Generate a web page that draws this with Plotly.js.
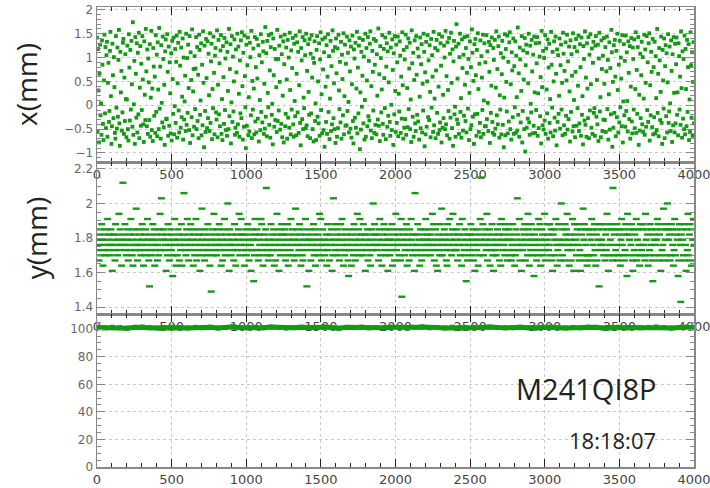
<!DOCTYPE html>
<html>
<head>
<meta charset="utf-8">
<script src="https://cdn.plot.ly/plotly-3.0.1.min.js"></script>
<style>html,body{margin:0;padding:0;background:#fff;}#chart{width:710px;height:488px;}</style>
</head>
<body>
<div id="chart"></div>
<script>
// sample index span (shared horizontal axis of all three panels)
const sampleStart = 0;
const sampleEnd = 4000;

// panel 1: horizontal beam position x (mm)
const xPos = [
1.42,-.55,1.18,.31,-.78,.66,1.27,-.21,.04,-.62,1.36,.85,-.39,-.73,.52,1.48,-.17,1.22,-.48,1.05,
1.33,-.66,.47,.89,-.35,-.12,1.14,1.54,.19,-.81,-.44,1.29,.63,-.27,1.01,.38,-.58,-.7,1.45,-.05,
-.49,1.21,-.24,.95,1.58,-.38,-.85,1.12,.27,.72,-.53,-.15,1.31,1.39,-.6,.58,-.33,1.07,.13,-.67,
.12,1.25,-.5,-.74,1.49,.79,-.32,1.16,-.09,1.35,.44,-.45,1.74,-.62,.02,.93,-.81,1.43,.66,-.26,
1.3,-.57,1.1,-.19,1.52,-.69,.37,1.24,-.43,.87,-.1,1.45,.54,-.4,-.77,1.34,.22,-.31,1.6,.71,
-.44,1.17,-.6,.98,.48,-.31,1.28,-.66,.16,1.56,-.52,.35,-.75,1.2,.81,-.22,.6,-.58,1.47,-.14,
1.06,-.65,1.32,.33,-.5,1.62,-.07,.81,-.7,1.26,.05,-.36,1.44,.97,-.46,.43,-.83,1.13,1.38,-.29,
-.28,1.49,.7,-.64,1.23,-.43,.9,.25,-.59,1.09,-.74,1.35,.55,-.18,1.42,-.61,-.02,1.18,-.37,.91,
1.46,-.68,.46,1.31,-.11,-.57,1.54,.83,-.47,1.21,-.25,.18,1.4,-.72,1.0,-.3,.08,.62,-.54,1.5,
-.41,.99,-.16,1.27,.36,-.52,1.45,-.79,1.11,.53,-.25,1.59,-.63,.29,.76,-.45,1.03,-.08,.77,1.43,
-.5,1.22,-.33,.64,-.69,1.48,1.16,-.2,.1,1.3,-.63,.85,-.42,1.55,.47,-.88,1.25,-.12,-.56,1.39,
.57,-.48,1.34,-.27,1.08,.21,-.54,1.51,-.37,.92,1.29,-.71,.34,-.06,1.44,.68,-.61,1.04,1.2,-.15,
-.3,1.57,-.67,.43,1.37,-.19,.88,-.44,1.15,1.47,-.6,.13,-.73,1.24,.59,-.39,1.41,-.1,.98,-.52,
1.32,-.64,1.12,.3,-.5,1.6,-.23,.76,1.28,-.8,.06,1.45,-.35,1.02,-.13,.5,1.38,-.62,-.47,1.17,
.69,-.58,1.5,-.4,1.23,.24,-.66,.94,-.17,1.36,-.27,1.53,.4,-.72,1.1,-.45,1.46,.61,-.04,-.9,
1.27,-.43,.84,1.42,-.63,.17,-.55,1.31,1.01,-.21,1.56,-.69,.51,-.09,1.19,.35,-.61,1.43,-.34,.8,
-.57,1.39,.56,-.28,1.26,-.76,1.05,.11,-.52,1.49,-.14,.9,-.36,1.33,1.13,-.6,.45,-.49,1.64,-.24,
1.09,-.65,1.35,.26,-.04,1.47,-.41,.73,-.68,1.22,1.5,-.2,.03,-.82,1.4,.63,-.45,1.18,-.31,.97,
.38,-.56,1.58,-.33,.97,-.11,1.25,.49,-.51,1.44,-.39,1.07,-.67,.2,1.34,-.78,.86,1.48,-.44,-.18,
1.21,.54,-.7,1.37,-.26,1.0,-.47,1.52,.32,-.61,1.15,-.09,.78,1.41,-.4,-.66,1.29,.09,-.23,1.46,
-.63,.66,1.32,-.15,1.12,-.58,.42,1.55,-.37,-.84,1.2,.94,-.29,1.43,-.5,.16,-.06,1.36,1.05,-.48,
1.5,-.42,.72,-.65,1.28,.28,-.2,1.39,-.69,1.08,-.17,1.47,.58,-.5,.99,-.76,.89,1.34,-.33,.04,
-.73,1.16,1.45,-.24,.5,-.38,1.3,-.64,.96,1.53,-.1,.23,-.59,1.38,.75,-.52,1.11,-.87,1.42,.39,
-.35,1.26,-.6,.6,1.49,-.14,1.03,-.71,.14,1.35,-.54,.82,-.4,1.57,1.14,-.27,.46,-.5,1.22,-.79,
1.4,.67,-.66,1.19,-.48,1.48,.31,-.08,.91,-.36,1.33,-.7,1.06,.55,-.21,1.51,-.61,.19,1.27,-.43,
.87,-.42,1.44,-.12,1.1,.07,-.57,1.36,.71,-.49,1.23,-.68,.44,1.46,-.33,-.8,1.17,.98,-.26,1.31,
-.47,.35,1.54,-.59,.79,-.17,1.25,1.41,-.92,.27,-.51,1.12,-.03,.62,1.37,-.38,1.02,-.72,.11,1.5,
-.66,1.2,.52,-.44,1.43,-.23,.93,-.32,1.29,1.55,-.53,.4,-.69,1.14,.7,-.11,1.39,-.58,.85,-.41,
1.35,-.61,1.07,.2,-.3,1.61,-.43,.65,-.75,1.24,.99,-.15,.33,1.47,-.39,-.62,1.18,.57,-.06,1.42,
-.71,.81,1.3,-.45,1.13,-.22,.48,1.52,-.35,-.64,1.21,.01,-.52,1.38,.74,-.83,1.09,-.19,1.45,.3,
-.56,1.27,-.37,.9,1.44,-.65,.24,-.13,1.34,1.04,-.58,.6,-.28,1.53,.42,-.7,1.16,-.47,.96,-.29,
1.48,-.62,1.22,.36,-.46,1.4,-.08,.77,1.31,-.5,.12,-.77,1.57,.88,-.24,1.1,-.66,.53,1.36,-.38,
-.54,1.45,.64,-.2,1.19,-.34,1.02,-.72,.18,1.42,-.48,.86,1.28,-.57,.45,-.11,1.5,1.12,-.86,.69,
-.61,1.33,-.45,.5,1.47,-.25,.94,-.31,1.26,.28,-.67,1.39,-.05,1.05,.6,-.56,1.54,-.42,.14,1.2,
-.69,.73,1.37,-.16,1.15,-.6,.39,1.49,-.52,-.36,1.3,.83,-.78,1.44,-.47,.22,-.27,1.25,1.0,-.5,
1.56,-.4,.61,-.63,1.32,.32,-.12,1.41,-.7,1.08,-.26,1.52,.47,-.48,1.17,-.85,.92,1.35,-.19,-.03,
-.66,1.23,1.7,-.3,.56,-.39,1.29,-.6,1.01,1.5,-.14,.15,-.68,1.38,.78,-.53,1.06,-.22,1.43,.43,
-.33,1.2,-.57,.68,1.45,-.07,.97,-.73,.26,1.34,-.5,.8,-.42,1.59,1.1,-.24,.51,-.81,1.28,-.19,
1.39,.63,-.64,1.16,-.18,1.51,.34,-.56,.87,-.37,1.36,-.67,1.03,.58,-.1,1.48,-.6,.1,1.3,-.44,
.9,-.44,1.47,-.29,1.13,.05,-.54,1.33,.7,-.79,1.26,-.16,.41,1.42,-.35,-.58,1.2,.95,-.62,1.37,
-.49,.37,1.55,-.21,.76,-.4,1.24,1.44,-.68,.21,-.09,1.09,-.61,.65,1.35,-.41,1.0,-.88,.16,1.49,
-.63,1.18,.49,-.13,1.46,-.59,.91,-.34,1.32,1.53,-.5,.44,-.72,1.11,.73,-.25,1.4,-.6,.82,-.04,
1.34,-.58,1.04,.17,-.53,1.63,-.2,.67,-.66,1.21,.96,-.36,.3,1.45,-.78,-.12,1.15,.54,-.5,1.41,
-.97,.84,1.27,-.47,1.1,-.28,.46,1.5,-.36,-.62,1.25,.03,-.15,1.37,.71,-.59,1.06,-.43,1.44,.27,
-.58,1.3,-.1,.88,1.43,-.64,.25,-.48,1.31,1.02,-.23,.59,-.8,1.56,.38,-.42,1.14,-.51,.99,-.32,
1.47,-.6,1.19,.33,-.17,1.38,-.7,.79,1.29,-.37,.13,-.57,1.54,.85,-.05,1.12,-.65,.5,1.34,-.26,
-.53,1.44,.66,-.84,1.17,-.35,1.05,-.18,.2,1.4,-.49,.84,1.27,-.09,.47,-.63,1.52,1.08,-.42,.72,
-.6,1.32,-.22,.52,1.48,-.51,.92,-.29,1.23,.29,-.76,1.36,-.14,1.07,.62,-.55,1.51,-.44,.11,1.22,
-.67,.7,1.39,-.43,1.13,-.06,.41,1.46,-.54,-.38,1.28,.8,-.64,1.42,-.2,.19,-.82,1.24,.97,-.32,
1.55,-.41,.58,-.66,1.3,.35,-.27,1.43,-.69,1.06,-.11,1.49,.44,-.47,1.19,-.6,.89,1.33,-.16,-.06,
-.64,1.25,1.45,-.24,.53,-.4,1.27,-.75,.98,1.52,-.13,.17,-.67,1.36,.76,-.54,1.04,-.3,1.41,.45,
-.31,1.22,-.56,.71,1.44,-.08,.95,-.72,.23,1.32,-.51,.78,-.19,1.58,1.11,-.87,.49,-.47,1.26,-.16,
1.37,.6,-.65,1.14,-.25,1.5,.32,-.57,.85,-.36,1.35,-.04,1.0,.56,-.44,1.47,-.78,.08,1.28,-.21,
.93,-.45,1.46,-.12,1.11,.09,-.55,1.34,.68,-.29,1.24,-.7,.39,1.41,-.34,-.59,1.21,.97,-.09,1.38,
-.48,.34,1.53,-.58,.74,-.18,1.22,1.43,-.83,.22,-.53,1.08,-.27,.63,1.33,-.4,1.01,-.56,.14,1.48,
-.62,1.17,.47,-.45,1.45,-.1,.9,-.35,1.3,1.51,-.74,.42,-.21,1.12,.7,-.46,1.39,-.61,.8,-.25,
1.33,-.59,1.03,.15,-.52,1.6,-.16,.66,-.65,1.2,.94,-.31,.28,1.44,-.37,-.81,1.16,.52,-.07,1.4,
-.69,.82,1.26,-.23,1.09,-.57,.48,1.49,-.37,-.13,1.23,.04,-.54,1.36,.72,-.77,1.07,-.42,1.43,.26,
-.57,1.29,-.38,.86,1.42,-.2,.27,-.63,1.3,1.03,-.09,.6,-.41,1.55,.36,-.68,1.13,-.28,.97,-.5,
1.46,-.61,1.18,.34,-.44,1.37,-.14,.8,1.28,-.73,.12,-.56,1.53,.84,-.26,1.11,-.64,.49,1.32,-.38
];

// panel 2: vertical beam position y (mm)
const yPos = [
1.79,1.73,1.82,1.67,1.76,1.85,1.70,1.88,1.79,1.64,1.73,1.82,1.76,1.70,1.85,1.79,1.91,1.73,1.76,1.82,
1.70,1.85,1.76,1.61,1.82,1.79,1.73,1.67,1.88,1.76,1.82,1.70,1.79,1.94,1.73,1.85,1.76,1.64,1.79,2.12,
1.82,1.76,1.88,1.73,1.70,1.79,1.85,1.67,1.76,1.82,1.73,1.91,1.79,1.70,1.64,1.85,1.82,1.76,1.73,1.97,
1.76,1.67,1.79,1.85,1.73,1.82,1.70,1.76,1.88,1.79,1.64,1.73,1.82,1.85,1.70,1.76,1.91,1.79,1.67,1.52,
1.73,1.82,1.70,1.79,1.88,1.76,1.85,1.64,1.73,1.79,1.82,1.67,1.76,1.70,1.85,1.94,1.73,2.03,1.82,1.79,
1.85,1.79,1.73,1.76,1.61,1.82,1.70,1.88,1.79,1.67,1.76,1.85,1.73,1.82,1.58,1.70,1.79,1.91,1.76,1.64,
1.79,1.70,1.85,1.82,1.67,1.76,1.73,1.88,1.64,1.79,1.82,2.06,1.76,1.73,1.70,1.85,1.91,1.79,1.67,1.82,
1.76,1.88,1.73,1.79,1.85,1.64,1.82,1.70,1.76,1.91,1.67,1.79,1.73,1.85,1.82,1.61,1.76,1.70,1.97,1.79,
1.82,1.73,1.67,1.85,1.76,1.79,1.70,1.88,1.73,1.82,1.64,1.76,1.49,1.79,1.85,1.70,1.94,1.73,1.82,1.76,
1.70,1.79,1.85,1.76,1.88,1.73,1.82,1.64,1.79,1.67,1.76,1.85,1.91,1.70,1.73,1.82,1.79,2.00,1.76,1.61,
1.85,1.76,1.70,1.82,1.73,1.79,1.67,1.88,1.76,1.64,1.82,1.73,1.79,1.85,1.94,1.70,1.76,1.91,1.82,1.73,
1.79,1.82,1.64,1.76,1.85,1.70,1.73,1.88,1.79,1.67,1.82,1.76,1.61,1.73,1.85,1.79,1.55,1.70,1.91,1.82,
1.73,1.85,1.79,1.67,1.82,1.76,1.70,1.91,1.88,1.73,1.64,1.79,1.82,1.76,1.85,2.09,1.70,1.73,1.67,1.79,
1.76,1.70,1.88,1.82,1.73,1.79,1.85,1.64,1.76,1.67,1.82,1.94,1.73,1.79,1.61,1.85,1.70,1.76,1.88,1.82,
1.82,1.79,1.73,1.85,1.67,1.76,1.70,1.88,1.64,1.82,1.79,1.73,1.91,1.76,1.85,1.70,1.79,1.67,1.82,1.97,
1.70,1.76,1.85,1.79,1.73,1.88,1.82,1.64,1.76,1.70,1.67,1.85,1.79,1.73,1.91,1.82,1.52,1.76,1.79,1.61,
1.79,1.85,1.67,1.73,1.82,1.76,1.88,1.70,1.79,1.64,1.85,1.73,1.76,1.82,1.70,1.94,1.79,1.91,1.67,1.76,
1.85,1.73,1.79,1.70,1.76,1.82,1.64,1.88,1.73,1.79,1.67,1.82,1.76,1.85,1.61,1.70,2.03,1.79,1.88,1.73,
1.76,1.82,1.70,1.85,1.79,1.67,1.73,1.88,1.82,1.91,1.76,1.64,1.79,1.70,1.85,1.73,1.82,1.76,1.67,1.58,
1.73,1.79,1.82,1.64,1.85,1.76,1.70,1.88,1.73,1.67,1.79,1.82,1.94,1.76,1.85,1.70,1.91,1.79,1.73,1.82,
1.70,1.88,1.76,1.82,1.61,1.79,1.73,1.85,1.67,1.76,1.82,1.70,1.64,1.79,1.85,1.73,2.00,1.76,1.88,1.82,
1.82,1.76,1.73,1.79,1.67,1.85,1.91,1.70,1.76,1.64,1.82,1.79,1.88,1.73,1.85,1.70,1.76,1.82,1.61,1.79,
1.79,1.70,1.85,1.73,1.88,1.64,1.76,1.82,1.67,1.79,1.94,1.73,1.85,1.76,1.82,1.70,1.79,1.67,1.91,1.46,
1.76,1.85,1.82,1.70,1.73,1.79,1.88,1.64,1.76,1.82,1.67,1.85,1.73,1.91,1.79,1.70,1.76,1.82,1.61,2.06,
1.73,1.82,1.76,1.88,1.70,1.79,1.64,1.85,1.73,1.67,1.82,1.79,1.76,1.85,1.70,1.91,1.73,1.79,1.82,1.76,
1.85,1.79,1.70,1.82,1.76,1.94,1.73,1.88,1.67,1.79,1.85,1.64,1.76,1.61,1.82,1.73,1.70,1.88,1.79,1.97,
1.70,1.76,1.82,1.85,1.79,1.73,1.67,1.64,1.88,1.76,1.82,1.91,1.73,1.79,1.70,1.85,1.94,1.76,1.82,1.73,
1.79,1.73,1.85,1.67,1.82,1.76,1.88,1.70,1.79,1.64,1.91,1.82,1.76,1.73,1.85,1.70,1.55,1.79,1.67,1.82,
1.76,1.82,1.73,1.88,1.79,1.70,1.85,1.67,1.76,1.61,1.82,1.79,1.73,1.85,1.64,1.76,1.70,1.91,2.15,1.79,
1.82,1.88,1.70,1.76,1.85,1.79,1.73,1.94,1.67,1.82,1.76,1.85,1.64,1.79,1.73,1.88,1.70,1.61,1.82,1.76,
1.73,1.70,1.79,1.85,1.76,1.82,1.67,1.88,1.64,1.91,1.79,1.73,1.82,1.76,1.70,1.85,1.88,1.79,1.67,1.73,
1.85,1.79,1.82,1.70,1.67,1.76,1.88,1.73,1.79,1.64,1.70,1.85,1.82,2.03,1.76,1.73,1.91,1.67,1.79,1.61,
1.76,1.73,1.85,1.82,1.88,1.67,1.79,1.76,1.70,1.94,1.85,1.64,1.82,1.73,1.88,1.79,1.70,1.76,1.58,1.82,
1.79,1.85,1.67,1.73,1.70,1.91,1.76,1.88,1.64,1.79,1.85,1.82,1.70,1.73,1.94,1.67,1.76,1.79,1.88,1.82,
1.73,1.76,1.88,1.70,1.85,1.67,1.61,1.82,1.79,1.85,1.70,1.91,1.76,1.64,1.73,1.88,1.79,1.67,1.76,2.00,
1.85,1.70,1.76,1.79,1.67,1.88,1.82,1.85,1.94,1.73,1.76,1.64,1.82,1.79,1.67,1.73,1.91,1.76,1.61,1.88,
1.82,1.79,1.70,1.85,1.88,1.76,1.67,1.73,1.61,1.85,1.82,1.70,1.97,1.79,1.88,1.67,1.76,1.85,1.64,1.70,
1.70,1.85,1.82,1.67,1.79,1.91,1.85,1.76,1.70,1.88,1.73,1.64,1.82,1.67,1.85,1.79,1.52,1.88,1.76,1.73,
1.79,1.76,1.85,1.70,1.88,1.67,1.82,1.73,1.94,1.85,1.61,1.70,1.76,1.79,1.88,1.85,1.67,2.09,1.70,1.82,
1.85,1.73,1.76,1.88,1.67,1.70,1.85,1.82,1.64,1.79,1.91,1.76,1.70,1.85,1.67,1.73,1.88,1.82,1.58,1.94,
1.82,1.70,1.79,1.85,1.76,1.88,1.67,1.61,1.85,1.73,1.82,1.70,1.91,1.67,1.79,1.85,1.76,1.64,1.88,1.70,
1.73,1.85,1.88,1.76,1.70,1.67,1.94,1.79,1.85,1.82,1.64,1.70,1.73,1.88,1.76,1.85,1.67,1.55,1.82,1.79,
1.70,1.76,1.85,1.79,1.91,1.88,1.67,1.82,1.70,1.61,1.85,1.73,1.76,1.97,1.67,1.88,1.79,1.85,1.70,2.00,
1.85,1.79,1.82,1.67,1.70,1.88,1.85,1.76,1.64,1.73,1.91,1.70,1.82,1.85,1.79,1.58,1.67,1.88,1.76,1.43,
1.82,1.85,1.79,1.70,1.88,1.67,1.76,1.61,1.85,1.73,1.94,1.70,1.82,1.88,1.67,1.64,1.85,1.79,1.91,1.76
];

// panel 3: intensity (near 101)
const intensity = [
101.2,100.9,101.4,101.1,100.7,101.3,101.6,101.0,100.8,101.2,101.5,101.1,100.9,101.3,101.0,101.4,100.8,101.2,101.7,101.1,
100.9,101.3,101.0,101.5,101.2,100.8,101.1,101.4,100.9,101.2,101.6,101.0,100.7,101.3,101.1,101.5,100.9,101.2,101.0,101.4,
101.1,100.8,101.3,101.6,101.0,101.2,100.9,101.4,101.1,100.8,101.3,101.0,101.5,101.2,100.9,101.1,101.4,101.0,100.8,101.3,
101.6,101.1,100.9,101.2,101.0,101.5,101.3,100.8,101.1,101.4,100.9,101.2,101.0,101.3,101.6,101.1,100.8,101.2,101.4,101.0
];

// text
const xTitle = 'x(mm)';
const yTitle = 'y(mm)';
const deviceName = 'M241QI8P';
const timeStamp = '18:18:07';

const green = '#129b12';

function step(arr) { return (sampleEnd - sampleStart) / (arr.length - 1); }

const traces = [
  {type: 'scatter', mode: 'markers', x0: sampleStart, dx: step(xPos), y: xPos,
   xaxis: 'x', yaxis: 'y', hoverinfo: 'skip',
   marker: {symbol: 'square', size: 3.8, color: green, line: {width: 0}}},
  {type: 'scatter', mode: 'markers', x0: sampleStart, dx: step(yPos), y: yPos,
   xaxis: 'x2', yaxis: 'y2', hoverinfo: 'skip',
   marker: {symbol: 'line-ew', size: 5, color: green, line: {color: green, width: 2.4}}},
  {type: 'scatter', mode: 'lines+markers', x0: sampleStart, dx: step(intensity), y: intensity,
   xaxis: 'x3', yaxis: 'y3', line: {color: green, width: 5}, marker: {color: green, size: 5, symbol: 'square'},
   hoverinfo: 'skip'}
];

function xAxis(anchor) {
  return {
    anchor: anchor, domain: [0, 1], range: [sampleStart, sampleEnd],
    tick0: 0, dtick: 500, ticks: 'inside', ticklen: 8, tickwidth: 1, tickcolor: '#222',
    showline: true, linecolor: '#888', linewidth: 1.5, mirror: 'allticks',
    showgrid: true, gridcolor: '#c8c8c8', griddash: 'dot', gridwidth: 1,
    zeroline: false, ticklabeloverflow: 'allow',
    tickfont: {family: 'DejaVu Sans', size: 13, color: '#444'},
    minor: {dtick: 100, ticks: 'inside', ticklen: 4, tickcolor: '#222', showgrid: false}
  };
}
function yAxis(anchor, domain, range, dtick, minorDtick, title) {
  const ax = {
    anchor: anchor, domain: domain, range: range, dtick: dtick,
    ticks: 'inside', ticklen: 8, tickwidth: 1, tickcolor: '#888',
    showline: true, linecolor: '#888', linewidth: 1.5, mirror: 'allticks',
    showgrid: true, gridcolor: '#c8c8c8', griddash: 'dot', gridwidth: 1,
    zeroline: false, tickfont: {family: 'DejaVu Sans', size: 12, color: '#666'},
    minor: {dtick: minorDtick, ticks: 'inside', ticklen: 4, tickcolor: '#888', showgrid: false}
  };
  if (title) {
    ax.title = {text: title, font: {family: 'Open Sans', size: 28, color: '#222'}, standoff: 18};
  }
  return ax;
}

const layout = {
  width: 710, height: 488,
  margin: {l: 97, r: 16, t: 7, b: 21, pad: 0},
  paper_bgcolor: '#fff', plot_bgcolor: '#fff',
  showlegend: false,
  xaxis: xAxis('y'),
  xaxis2: xAxis('y2'),
  xaxis3: xAxis('y3'),
  yaxis: yAxis('x', [0.663, 1], [-1.19, 2.06], 0.5, 0.1, xTitle),
  yaxis2: yAxis('x2', [0.3326, 0.663], [1.36, 2.24], 0.2, 0.05, yTitle),
  yaxis3: yAxis('x3', [0, 0.3326], [0, 111], 20, 5, null),
  annotations: [
    {text: deviceName, xref: 'paper', yref: 'y3', x: 0.82, y: 57, xanchor: 'center', yanchor: 'middle',
     showarrow: false, font: {family: 'Open Sans', size: 29, color: '#222'}},
    {text: timeStamp, xref: 'paper', yref: 'y3', x: 0.864, y: 19.6, xanchor: 'center', yanchor: 'middle',
     showarrow: false, font: {family: 'Open Sans', size: 22, color: '#222'}}
  ]
};

Plotly.newPlot('chart', traces, layout, {staticPlot: true, displayModeBar: false});
</script>
</body>
</html>
